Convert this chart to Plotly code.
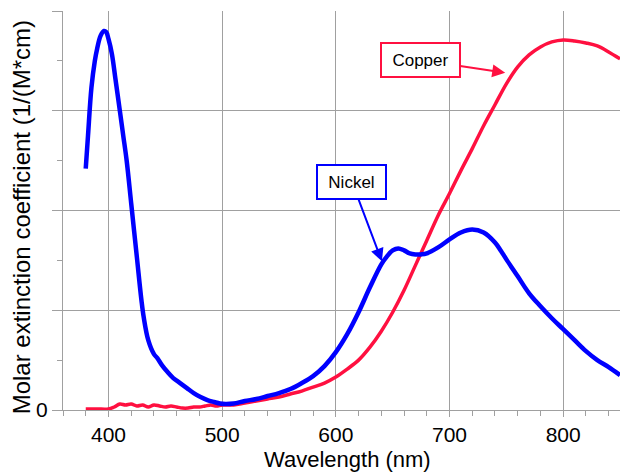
import plotly.graph_objects as go

# Nickel (blue) spectrum
nickel_nm = [380, 382, 385, 388, 390, 393, 396, 398, 400, 403, 406, 410, 413, 416, 420,
             425, 429, 431, 435, 440, 443, 447, 452, 457, 463, 469, 475, 481, 487, 493,
             498, 503, 510, 520, 530, 540, 550, 560, 570, 580, 590, 600, 610, 620, 630,
             640, 645, 650, 655, 660, 665, 670, 675, 680, 690, 700, 710, 720, 730, 740,
             745, 750, 760, 770, 780, 790, 800, 810, 820, 830, 840, 850]
nickel_val = [2.42, 2.75, 3.23, 3.5, 3.62, 3.75, 3.8, 3.79, 3.72, 3.57, 3.33, 3.0, 2.75, 2.5, 2.07,
              1.53, 1.1, 0.93, 0.7, 0.56, 0.52, 0.45, 0.38, 0.32, 0.27, 0.22, 0.17, 0.13, 0.1, 0.08,
              0.065, 0.06, 0.065, 0.09, 0.11, 0.14, 0.17, 0.21, 0.27, 0.34, 0.44, 0.58, 0.76, 0.98, 1.23,
              1.46, 1.54, 1.6, 1.62, 1.6, 1.57, 1.56, 1.56, 1.57, 1.63, 1.71, 1.78, 1.81, 1.78, 1.68,
              1.6, 1.51, 1.34, 1.17, 1.04, 0.92, 0.81, 0.7, 0.59, 0.5, 0.43, 0.35]

# Copper (red) spectrum
copper_nm = [380, 390, 400, 405, 410, 415, 420, 425, 430, 435, 440, 445, 450, 455, 460,
             465, 470, 475, 480, 485, 490, 495, 500, 510, 520, 530, 540, 550, 560, 570,
             580, 590, 600, 610, 620, 630, 640, 650, 660, 670, 680, 690, 700, 710, 720,
             730, 740, 750, 760, 770, 780, 790, 800, 810, 820, 830, 840, 850]
copper_val = [0.01, 0.01, 0.01, 0.03, 0.06, 0.05, 0.06, 0.04, 0.05, 0.03, 0.05, 0.04, 0.03, 0.04, 0.03,
              0.02, 0.02, 0.03, 0.03, 0.04, 0.05, 0.04, 0.05, 0.05, 0.07, 0.09, 0.11, 0.13, 0.16, 0.19,
              0.23, 0.27, 0.33, 0.41, 0.5, 0.63, 0.79, 0.98, 1.2, 1.45, 1.7, 1.95, 2.17, 2.4, 2.62,
              2.85, 3.06, 3.27, 3.44, 3.56, 3.64, 3.69, 3.71, 3.7, 3.68, 3.65, 3.59, 3.52]

x_ticks = [400, 500, 600, 700, 800]
y_ticks = [0, 1, 2, 3, 4]
y_ticklabels = ["0", "", "", "", ""]

RED = "#ff1040"
BLUE = "#0000ff"
GRID = "#a0a0a0"
FONT = "Liberation Sans, Arial, sans-serif"

fig = go.Figure()
fig.add_trace(go.Scatter(x=copper_nm, y=copper_val, mode="lines", name="Copper",
                         line=dict(color=RED, width=3.5, shape="spline", smoothing=1.0)))
fig.add_trace(go.Scatter(x=nickel_nm, y=nickel_val, mode="lines", name="Nickel",
                         line=dict(color=BLUE, width=4.5, shape="spline", smoothing=1.0)))

fig.add_annotation(x=749, y=3.38, ax=674.6, ay=3.51, xref="x", yref="y", axref="x", ayref="y",
                   text="Copper", showarrow=True, arrowhead=2, arrowsize=1.3, arrowwidth=2,
                   arrowcolor=RED, bordercolor=RED, borderwidth=2, borderpad=1,
                   bgcolor="white", width=75, height=30,
                   font=dict(family=FONT, size=17, color="black"))
fig.add_annotation(x=640.5, y=1.49, ax=614.1, ay=2.29, xref="x", yref="y", axref="x", ayref="y",
                   text="Nickel", showarrow=True, arrowhead=2, arrowsize=1.3, arrowwidth=2,
                   arrowcolor=BLUE, bordercolor=BLUE, borderwidth=2, borderpad=1,
                   bgcolor="white", width=65, height=30,
                   font=dict(family=FONT, size=17, color="black"))

# axis titles
fig.add_annotation(text="Wavelength (nm)", xref="paper", yref="paper", x=0.504, y=-0.125,
                   xanchor="center", yanchor="middle", showarrow=False,
                   font=dict(family=FONT, size=22, color="black"))
fig.add_annotation(text="Molar extinction coefficient (1/(M*cm)", xref="paper", yref="paper",
                   x=-0.0735, y=0.484, xanchor="center", yanchor="middle", textangle=-90,
                   showarrow=False, font=dict(family=FONT, size=24, color="black"))

# the page body adds an 8px offset, so the figure is 8px smaller and margins shifted
fig.update_layout(
    width=620, height=465,
    margin=dict(l=55, r=0, t=3, b=63),
    paper_bgcolor="white", plot_bgcolor="white",
    showlegend=False,
    font=dict(family=FONT, color="black"),
    xaxis=dict(range=[360, 857], tickvals=x_ticks, showgrid=True, gridcolor=GRID, gridwidth=1,
               showline=True, linecolor=GRID, linewidth=1, zeroline=False, automargin=False,
               ticks="outside", ticklen=6, tickcolor=GRID,
               minor=dict(dtick=20, tick0=400, ticks="outside", ticklen=5, tickcolor=GRID, showgrid=False),
               tickfont=dict(size=21, family=FONT)),
    yaxis=dict(range=[0, 4], tickvals=y_ticks, ticktext=y_ticklabels, showgrid=True, gridcolor=GRID,
               gridwidth=1, showline=True, linecolor=GRID, linewidth=1, zeroline=False, automargin=False,
               ticks="outside", ticklen=10, tickcolor=GRID,
               minor=dict(dtick=0.5, ticks="outside", ticklen=5, tickcolor=GRID, showgrid=False),
               tickfont=dict(size=21, family=FONT)),
)

fig.write_html("out.html")
